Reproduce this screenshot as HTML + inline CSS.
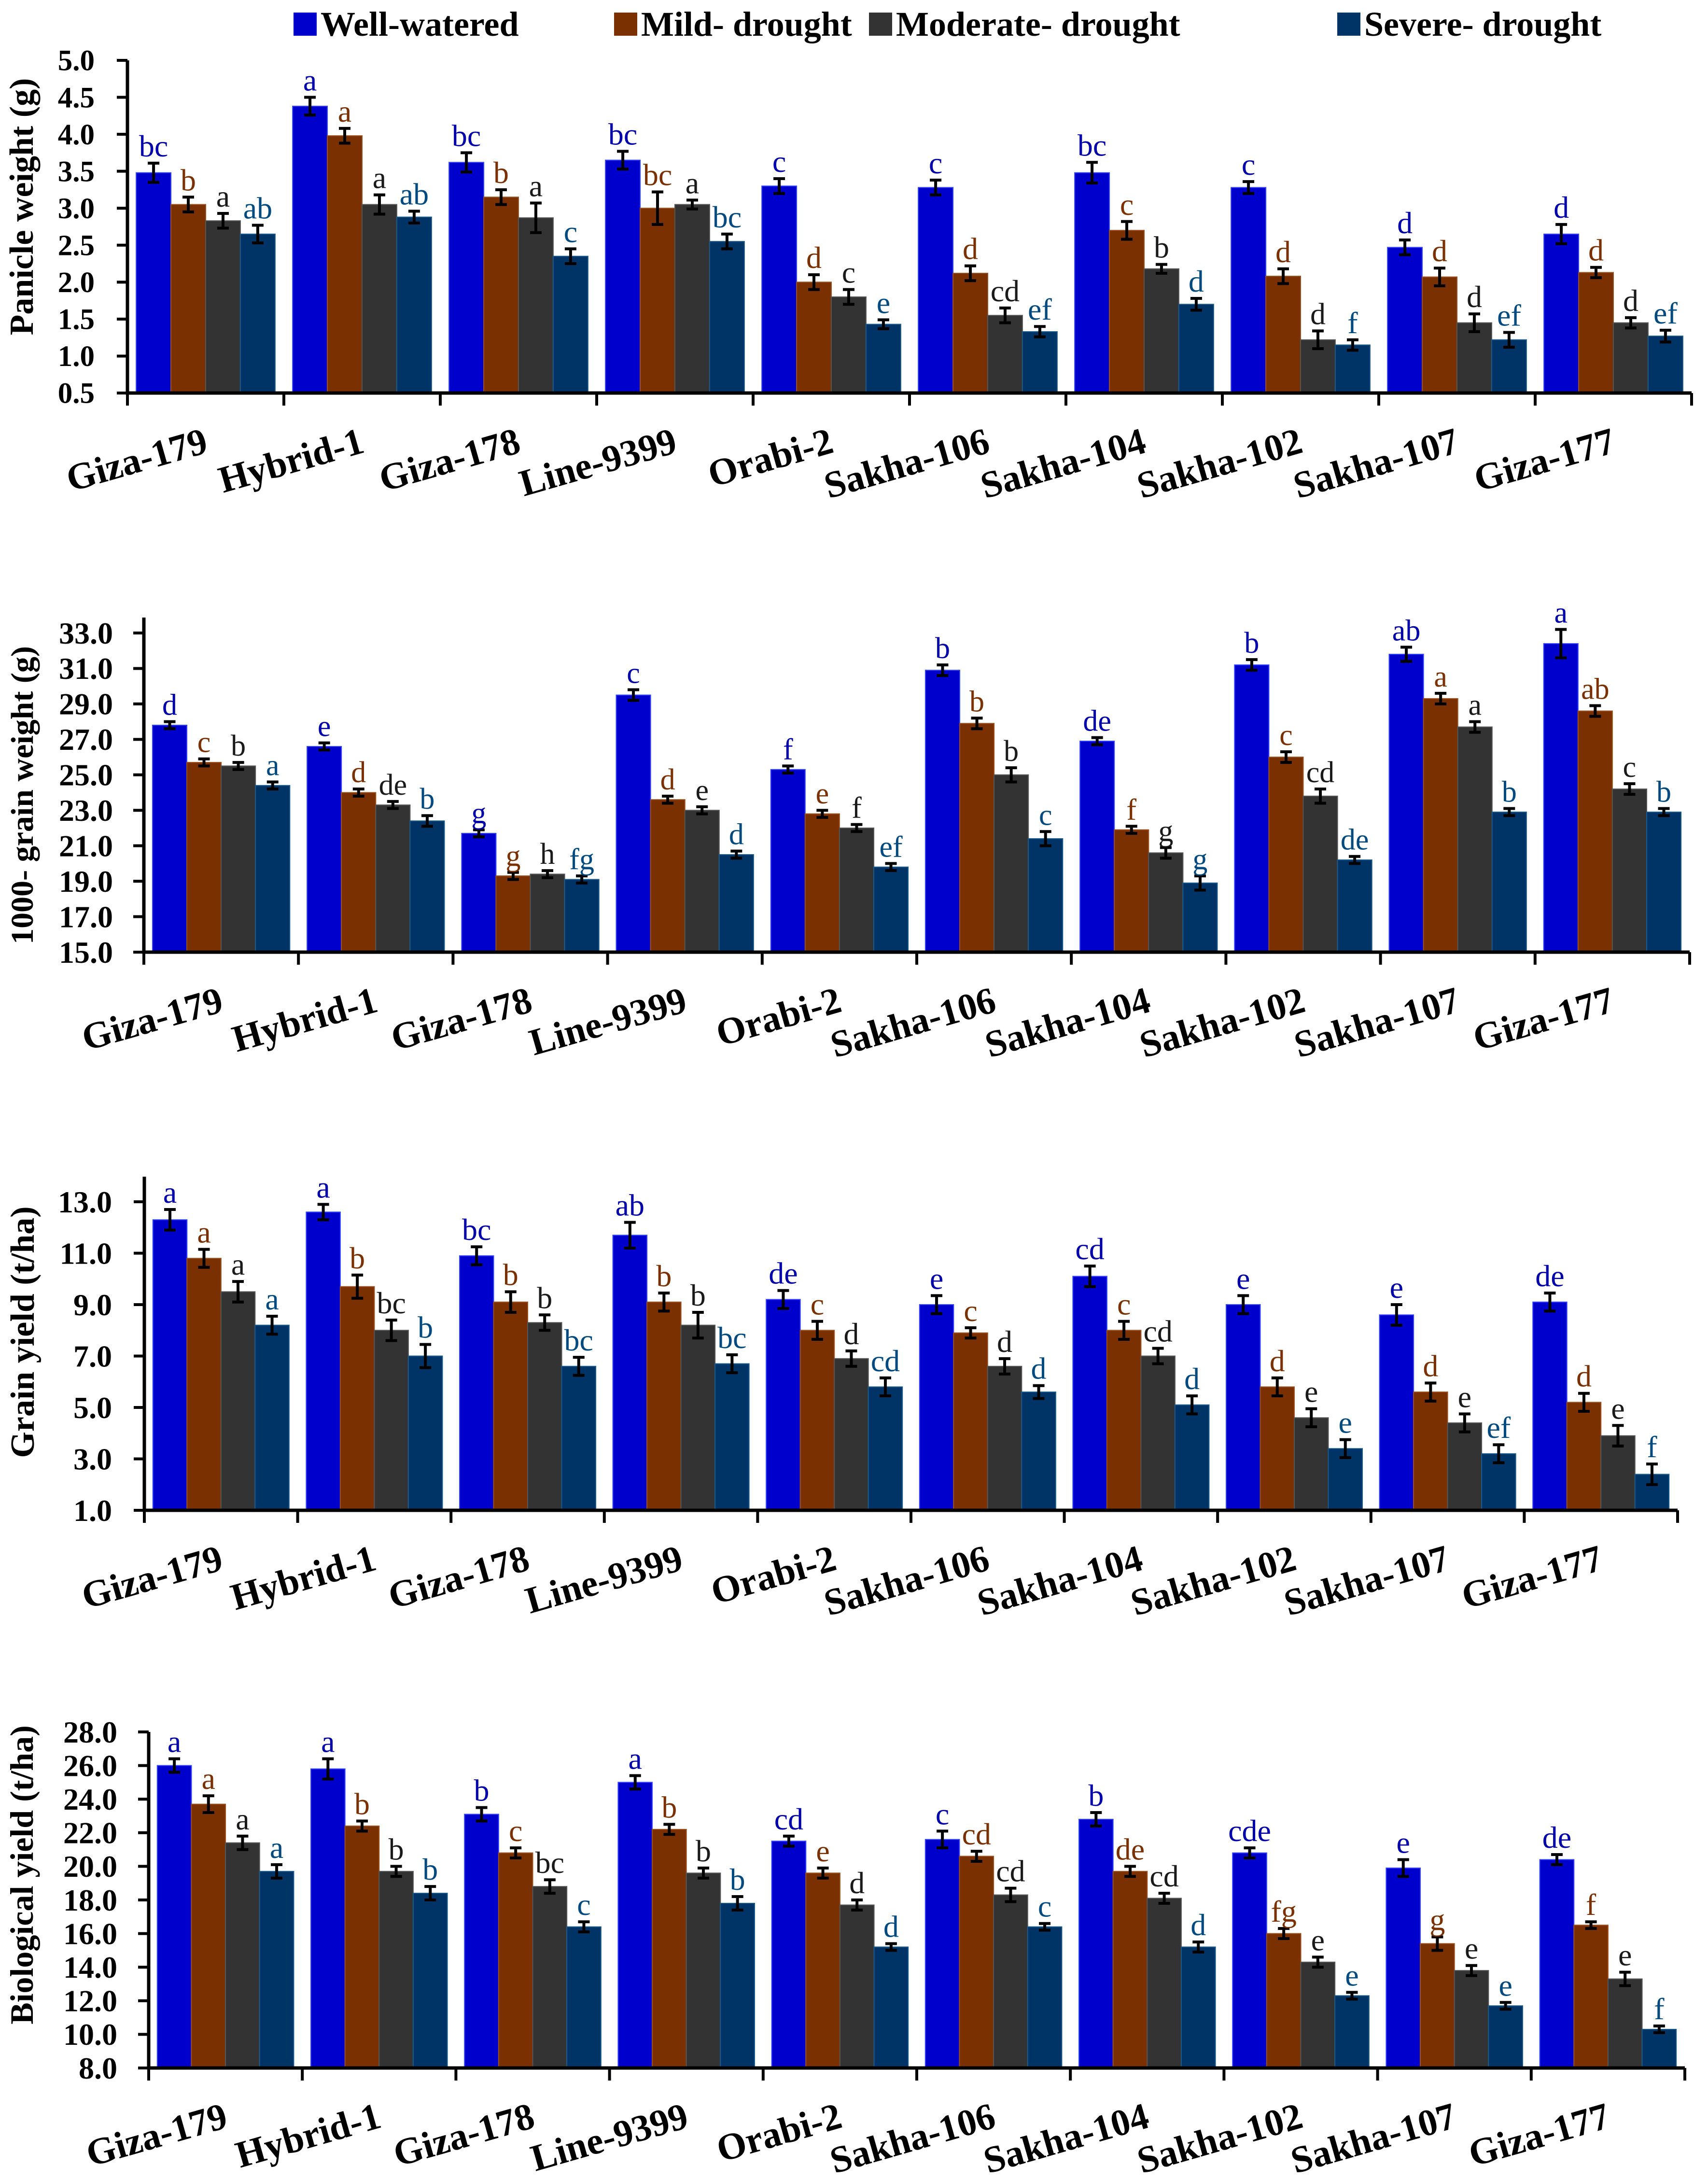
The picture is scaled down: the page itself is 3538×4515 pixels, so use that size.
<!DOCTYPE html>
<html><head><meta charset="utf-8">
<style>
html,body{margin:0;padding:0;background:#fff;}
svg{display:block;}
text{font-family:"Liberation Serif",serif;}
</style></head>
<body>
<svg id="chart" width="3538" height="4515" viewBox="0 0 3538 4515" xmlns="http://www.w3.org/2000/svg">
<g font-weight="bold" font-size="72">
  <rect x="608" y="26" width="48" height="48" fill="#0000CC"/>
  <text x="664" y="74">Well-watered</text>
  <rect x="1272" y="26" width="48" height="48" fill="#7A3000"/>
  <text x="1328" y="74">Mild- drought</text>
  <rect x="1800" y="26" width="48" height="48" fill="#333333"/>
  <text x="1856" y="74">Moderate- drought</text>
  <rect x="2770" y="26" width="48" height="48" fill="#003366"/>
  <text x="2826" y="74">Severe- drought</text>
</g>
</svg>
<script>
const cultivars = ["Giza-179","Hybrid-1","Giza-178","Line-9399","Orabi-2","Sakha-106","Sakha-104","Sakha-102","Sakha-107","Giza-177"];
const seriesNames = ["Well-watered","Mild- drought","Moderate- drought","Severe- drought"];

const panicleWW   = [3.48,4.38,3.62,3.65,3.30,3.28,3.48,3.28,2.47,2.65];
const panicleMild = [3.05,3.98,3.15,3.00,2.00,2.12,2.70,2.08,2.07,2.13];
const panicleMod  = [2.83,3.05,2.87,3.05,1.80,1.55,2.18,1.22,1.45,1.45];
const panicleSev  = [2.65,2.88,2.35,2.55,1.43,1.33,1.70,1.15,1.22,1.27];
const panicleErr  = [[0.13,0.12,0.13,0.12,0.10,0.10,0.14,0.08,0.10,0.13],[0.10,0.10,0.10,0.22,0.10,0.10,0.12,0.10,0.12,0.07],[0.10,0.13,0.20,0.06,0.10,0.10,0.06,0.12,0.12,0.07],[0.12,0.08,0.10,0.10,0.06,0.07,0.08,0.07,0.10,0.08]];
const panicleLetters = [["bc","a","bc","bc","c","c","bc","c","d","d"],["b","a","b","bc","d","d","c","d","d","d"],["a","a","a","a","c","cd","b","d","d","d"],["ab","ab","c","bc","e","ef","d","f","ef","ef"]];
const panicleTicks = ["0.5","1.0","1.5","2.0","2.5","3.0","3.5","4.0","4.5","5.0"];

const grainWtWW   = [27.8,26.6,21.7,29.5,25.3,30.9,26.9,31.2,31.8,32.4];
const grainWtMild = [25.7,24.0,19.3,23.6,22.8,27.9,21.9,26.0,29.3,28.6];
const grainWtMod  = [25.5,23.3,19.4,23.0,22.0,25.0,20.6,23.8,27.7,24.2];
const grainWtSev  = [24.4,22.4,19.1,20.5,19.8,21.4,18.9,20.2,22.9,22.9];
const grainWtErr  = [[0.2,0.2,0.2,0.3,0.2,0.3,0.2,0.3,0.4,0.8],[0.2,0.2,0.2,0.2,0.2,0.3,0.2,0.3,0.3,0.3],[0.2,0.2,0.2,0.2,0.2,0.4,0.3,0.4,0.3,0.3],[0.2,0.3,0.2,0.2,0.2,0.4,0.4,0.2,0.2,0.2]];
const grainWtLetters = [["d","e","g","c","f","b","de","b","ab","a"],["c","d","g","d","e","b","f","c","a","ab"],["b","de","h","e","f","b","g","cd","a","c"],["a","b","fg","d","ef","c","g","de","b","b"]];
const grainWtTicks = ["15.0","17.0","19.0","21.0","23.0","25.0","27.0","29.0","31.0","33.0"];

const yieldWW   = [12.3,12.6,10.9,11.7,9.2,9.0,10.1,9.0,8.6,9.1];
const yieldMild = [10.8,9.7,9.1,9.1,8.0,7.9,8.0,5.8,5.6,5.2];
const yieldMod  = [9.5,8.0,8.3,8.2,6.9,6.6,7.0,4.6,4.4,3.9];
const yieldSev  = [8.2,7.0,6.6,6.7,5.8,5.6,5.1,3.4,3.2,2.4];
const yieldErr  = [[0.4,0.3,0.35,0.5,0.35,0.35,0.4,0.35,0.4,0.35],[0.35,0.45,0.4,0.35,0.35,0.2,0.35,0.35,0.35,0.35],[0.4,0.4,0.3,0.5,0.3,0.3,0.3,0.35,0.35,0.4],[0.35,0.45,0.35,0.35,0.35,0.25,0.35,0.35,0.35,0.4]];
const yieldLetters = [["a","a","bc","ab","de","e","cd","e","e","de"],["a","b","b","b","c","c","c","d","d","d"],["a","bc","b","b","d","d","cd","e","e","e"],["a","b","bc","bc","cd","d","d","e","ef","f"]];
const yieldTicks = ["1.0","3.0","5.0","7.0","9.0","11.0","13.0"];

const bioWW   = [26.0,25.8,23.1,25.0,21.5,21.6,22.8,20.8,19.9,20.4];
const bioMild = [23.7,22.4,20.8,22.2,19.6,20.6,19.7,16.0,15.4,16.5];
const bioMod  = [21.4,19.7,18.8,19.6,17.7,18.3,18.1,14.3,13.8,13.3];
const bioSev  = [19.7,18.4,16.4,17.8,15.2,16.4,15.2,12.3,11.7,10.3];
const bioErr  = [[0.4,0.6,0.4,0.4,0.3,0.5,0.4,0.3,0.5,0.3],[0.5,0.3,0.3,0.3,0.3,0.3,0.3,0.3,0.4,0.2],[0.4,0.3,0.4,0.3,0.3,0.4,0.3,0.3,0.3,0.4],[0.4,0.4,0.3,0.4,0.2,0.2,0.3,0.2,0.2,0.2]];
const bioLetters = [["a","a","b","a","cd","c","b","cde","e","de"],["a","b","c","b","e","cd","de","fg","g","f"],["a","b","bc","b","d","cd","cd","e","e","e"],["a","b","c","b","d","c","d","e","e","f"]];
const bioTicks = ["8.0","10.0","12.0","14.0","16.0","18.0","20.0","22.0","24.0","26.0","28.0"];

const barColors = ["#0000CC","#7A3000","#333333","#003366"];
const edgeColors = ["#3344ff","#9a5020","#555555","#1a5a8a"];
const letterColors = ["#0000AA","#7A3000","#1a1a1a","#004A80"];

const NS = "http://www.w3.org/2000/svg";
const svg = document.getElementById("chart");
function mk(tag, attrs, parent){ const e=document.createElementNS(NS,tag); for(const k in attrs) e.setAttribute(k,attrs[k]); parent.appendChild(e); return e; }

function drawPanel(cfg){
  const g = mk("g",{},svg);
  
  
  const ymin = parseFloat(cfg.ticks[0]), ymax = parseFloat(cfg.ticks[cfg.ticks.length-1]);
  const yScale = v => cfg.yBot - (v - ymin)/(ymax - ymin)*(cfg.yBot - cfg.yTop);
  const gw = (cfg.xEnd - cfg.x0)/cultivars.length;
  const bw = gw*0.222;
  const pad = (gw - 4*bw)/2;
  const xBar = (i,s) => cfg.x0 + i*gw + pad + s*bw;
  cfg.series.forEach((vals,s)=>{
    vals.forEach((v,i)=>{
      const y = yScale(v);
      const r = mk("rect",{x:xBar(i,s),y:y,width:bw,height:cfg.yBot-y,fill:barColors[s],stroke:edgeColors[s],"stroke-width":2},g);
      
      
      const cx = xBar(i,s)+bw/2, e = cfg.err[s][i];
      const y1 = yScale(v+e), y2 = yScale(v-e);
      const eb = mk("path",{d:`M${cx},${y1}V${y2}M${cx-12},${y1}H${cx+12}M${cx-12},${y2}H${cx+12}`,stroke:"#000","stroke-width":6,fill:"none"},g);
      
      
      const t = mk("text",{x:cx,y:y1-14,"text-anchor":"middle","font-size":cfg.lfs,fill:letterColors[s]},g);
      t.textContent = cfg.letters[s][i];
      
      
    });
  });
  const ax = mk("path",{d:`M${cfg.x0},${cfg.axTop}V${cfg.yBot}H${cfg.xEnd}`,stroke:"#000","stroke-width":7,fill:"none"},g);
  
  
  cfg.ticks.forEach(tk=>{
    const y = yScale(parseFloat(tk));
    const tl = mk("path",{d:`M${cfg.x0-22},${y}H${cfg.x0}`,stroke:"#000","stroke-width":6},g);
    
    
    const t = mk("text",{x:cfg.tickRight,y:y+cfg.tfs*0.34,"text-anchor":"end","font-size":cfg.tfs,"font-weight":"bold"},g);
    t.textContent = tk;
    
    
  });
  for(let i=0;i<=cultivars.length;i++){
    const x = cfg.x0 + i*gw;
    const tl = mk("path",{d:`M${x},${cfg.yBot}V${cfg.yBot+26}`,stroke:"#000","stroke-width":6},g);
    
    
  }
  cultivars.forEach((c,i)=>{
    const x = cfg.x0 + (i+0.5)*gw + 8, y = cfg.yBot + 122;
    const t = mk("text",{x:x,y:y,"text-anchor":"end","font-size":78,"font-weight":"bold",transform:`rotate(-16 ${x} ${y})`},g);
    t.textContent = c;
    
    
  });
  const tt = mk("text",{x:cfg.titleX,y:cfg.titleY,"text-anchor":"middle","font-size":cfg.titleFs,"font-weight":"bold",transform:`rotate(-90 ${cfg.titleX} ${cfg.titleY})`},g);
  tt.textContent = cfg.title;
  
  
}

drawPanel({name:"panicle-weight-chart",title:"Panicle weight (g)",series:[panicleWW,panicleMild,panicleMod,panicleSev],err:panicleErr,letters:panicleLetters,ticks:panicleTicks,
  x0:264,xEnd:3504,yTop:125,yBot:814,axTop:125,tickRight:196,tfs:61,lfs:64,titleX:68,titleY:428,titleFs:70});
drawPanel({name:"grain-weight-chart",title:"1000- grain weight (g)",series:[grainWtWW,grainWtMild,grainWtMod,grainWtSev],err:grainWtErr,letters:grainWtLetters,ticks:grainWtTicks,
  x0:298,xEnd:3500,yTop:1311,yBot:1972,axTop:1279,tickRight:234,tfs:64,lfs:62,titleX:68,titleY:1647,titleFs:66});
drawPanel({name:"grain-yield-chart",title:"Grain yield (t/ha)",series:[yieldWW,yieldMild,yieldMod,yieldSev],err:yieldErr,letters:yieldLetters,ticks:yieldTicks,
  x0:299,xEnd:3475,yTop:2489,yBot:3128,axTop:2437,tickRight:232,tfs:64,lfs:64,titleX:70,titleY:2759,titleFs:70});
drawPanel({name:"biological-yield-chart",title:"Biological yield (t/ha)",series:[bioWW,bioMild,bioMod,bioSev],err:bioErr,letters:bioLetters,ticks:bioTicks,
  x0:308,xEnd:3490,yTop:3587,yBot:4283,axTop:3587,tickRight:243,tfs:64,lfs:64,titleX:68,titleY:3883,titleFs:68});
</script>
</body></html>
